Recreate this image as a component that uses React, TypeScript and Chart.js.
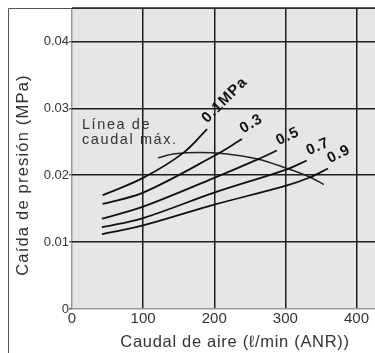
import { useEffect, useRef } from "react";
import { Chart, registerables } from "chart.js";

Chart.register(...registerables);

// Axis ticks
const xTicks = [0, 100, 200, 300, 400];
const yTicks = [0, 0.01, 0.02, 0.03, 0.04];
const xMax = 426;
const yMax = 0.045;

// Pressure curves (flow l/min ANR -> pressure drop MPa)
const pressureLabels = ["0.1MPa", "0.3", "0.5", "0.7", "0.9"];
const flow01 = [43, 100, 156, 190];
const drop01 = [0.017, 0.0196, 0.0233, 0.0269];
const flow03 = [43, 100, 200, 239];
const drop03 = [0.0157, 0.0174, 0.0229, 0.0254];
const flow05 = [42, 100, 200, 262, 288];
const drop05 = [0.0135, 0.0153, 0.0196, 0.0224, 0.0237];
const flow07 = [42, 100, 200, 300, 330];
const drop07 = [0.0122, 0.0136, 0.0174, 0.0208, 0.0222];
const flow09 = [42, 100, 200, 300, 335, 360];
const drop09 = [0.0112, 0.0125, 0.0156, 0.0184, 0.0197, 0.021];

// Maximum flow line
const maxFlowFlow = [121, 145, 180, 215, 262, 300, 335, 354];
const maxFlowDrop = [0.0226, 0.0232, 0.0234, 0.0232, 0.0224, 0.0211, 0.0197, 0.0186];
const maxFlowText = ["Línea de", "caudal máx."];
const maxFlowTextAt = { x: 14, y: 0.0269 };

const xTitle = "Caudal de aire (ℓ/min (ANR))";
const yTitle = "Caída de presión (MPa)";

const FONT = "'Liberation Sans', Arial, Helvetica, sans-serif";
const TEXT = "#333";

const curves = [
  [flow01, drop01],
  [flow03, drop03],
  [flow05, drop05],
  [flow07, drop07],
  [flow09, drop09],
];

export default function App() {
  const ref = useRef<HTMLCanvasElement | null>(null);

  useEffect(() => {
    document.body.style.margin = "0";
    const canvas = ref.current;
    if (!canvas) return;

    const decor = {
      id: "decor",
      beforeDraw(chart: any) {
        const { ctx, chartArea: a } = chart;
        ctx.save();
        ctx.fillStyle = "#e6e6e6";
        ctx.fillRect(a.left, a.top, a.right - a.left, a.bottom - a.top);
        ctx.restore();
      },
      afterDraw(chart: any) {
        const { ctx, chartArea: a, scales } = chart;
        const xs = scales.x;
        const ys = scales.y;
        ctx.save();
        // outer frame
        ctx.strokeStyle = "#555";
        ctx.lineWidth = 1;
        ctx.beginPath();
        ctx.moveTo(8.5, 353);
        ctx.lineTo(8.5, a.top + 0.5);
        ctx.lineTo(375, a.top + 0.5);
        ctx.stroke();
        // plot top border
        ctx.strokeStyle = "#222";
        ctx.lineWidth = 1.5;
        ctx.beginPath();
        ctx.moveTo(a.left, a.top);
        ctx.lineTo(a.right, a.top);
        ctx.stroke();

        // pressure labels
        ctx.fillStyle = "#111";
        ctx.font = `bold 15px ${FONT}`;
        (ctx as any).letterSpacing = "1px";
        ctx.textAlign = "left";
        ctx.textBaseline = "alphabetic";
        pressureLabels.forEach((lab, i) => {
          const pts = chart.getDatasetMeta(i).data;
          const last = pts[pts.length - 1];
          const prev = pts[pts.length - 2];
          const ang = Math.atan2(last.y - prev.y, last.x - prev.x);
          ctx.save();
          ctx.translate(last.x, last.y);
          ctx.rotate(ang);
          ctx.fillText(lab, 4, -4);
          ctx.restore();
        });

        // max flow note
        ctx.fillStyle = TEXT;
        ctx.font = `14.5px ${FONT}`;
        (ctx as any).letterSpacing = "1.6px";
        const nx = xs.getPixelForValue(maxFlowTextAt.x);
        const ny = ys.getPixelForValue(maxFlowTextAt.y);
        maxFlowText.forEach((t, i) => ctx.fillText(t, nx, ny + i * 15));

        // axis titles
        ctx.font = `16.5px ${FONT}`;
        (ctx as any).letterSpacing = "0.7px";
        ctx.textAlign = "center";
        ctx.fillText(xTitle, 235, 347);
        ctx.save();
        ctx.translate(27.5, 175);
        ctx.rotate(-Math.PI / 2);
        (ctx as any).letterSpacing = "1.2px";
        ctx.fillText(yTitle, 0, 0);
        ctx.restore();
        ctx.restore();
      },
    };

    const gridColor = (c: any) => (c.tick && c.tick.value === 0 ? "#9a9a9a" : "#1c1c1c");

    const datasets: any[] = curves.map(([fx, dy]) => ({
      data: fx.map((x, i) => ({ x, y: dy[i] })),
      borderColor: "#111",
      borderWidth: 1.8,
      pointRadius: 0,
      tension: 0.35,
      fill: false,
    }));
    datasets.push({
      data: maxFlowFlow.map((x, i) => ({ x, y: maxFlowDrop[i] })),
      borderColor: "#222",
      borderWidth: 1.5,
      pointRadius: 0,
      tension: 0.35,
      fill: false,
    });

    const chart = new Chart(canvas, {
      type: "line",
      data: { datasets },
      options: {
        animation: false,
        responsive: false,
        maintainAspectRatio: false,
        layout: { padding: { top: 8, left: 0, right: 0, bottom: 0 } },
        plugins: { legend: { display: false }, tooltip: { enabled: false } },
        scales: {
          x: {
            type: "linear",
            min: 0,
            max: xMax,
            afterBuildTicks: (s: any) => {
              s.ticks = xTicks.map((v) => ({ value: v }));
            },
            afterFit: (s: any) => {
              s.height = 44;
            },
            border: { display: false },
            grid: { color: gridColor, lineWidth: 1.5, drawTicks: false },
            ticks: {
              autoSkip: false,
              maxRotation: 0,
              padding: 1,
              color: TEXT,
              font: { family: FONT, size: 15 },
              callback: (v: any) => String(v),
            },
          },
          y: {
            type: "linear",
            min: 0,
            max: yMax,
            afterBuildTicks: (s: any) => {
              s.ticks = yTicks.map((v) => ({ value: v }));
            },
            afterFit: (s: any) => {
              s.width = 72;
            },
            border: { display: false },
            grid: { color: gridColor, lineWidth: 1.5, tickLength: 3, tickColor: "#666" },
            ticks: {
              padding: 0,
              color: TEXT,
              font: { family: FONT, size: 13 },
              callback: (v: any) => (v === 0 ? "0" : Number(v).toFixed(2)),
            },
          },
        },
      },
      plugins: [decor],
    } as any);

    return () => chart.destroy();
  }, []);

  return <canvas ref={ref} width={375} height={353} style={{ display: "block" }} />;
}
